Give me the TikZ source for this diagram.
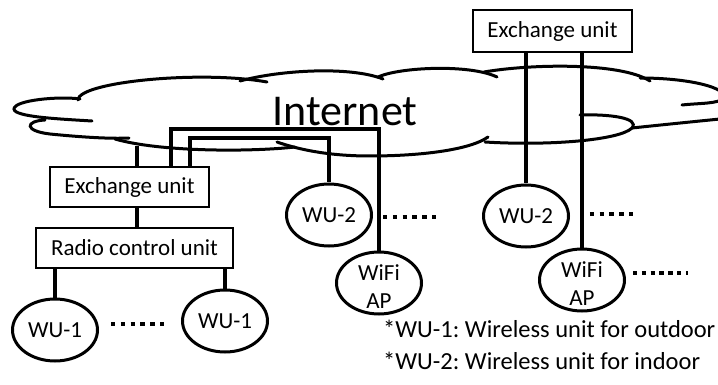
\documentclass[tikz,border=0pt]{standalone}
\usepackage{fontspec}
\setmainfont{Carlito}
\usetikzlibrary{shapes.geometric}
\frenchspacing

\begin{document}
\begin{tikzpicture}[x=1pt,y=-1pt,
	unitbox/.style={draw=black,line width=1.4pt,minimum height=40pt,inner sep=0pt,font=\fontsize{23}{28}\selectfont},
	wunode/.style={draw=black,ellipse,line width=3pt,minimum width=85pt,minimum height=62pt,inner sep=0pt,font=\fontsize{23}{28}\selectfont},
	link/.style={line width=3.3pt},
	cloudline/.style={line width=3pt,line cap=round},
	dots/.style={line width=4.3pt,dash pattern=on 4.3pt off 5.5pt},
	note/.style={anchor=west,inner sep=0pt,font=\fontsize{24.5}{29}\selectfont}]
		\clip (0,0) rectangle (718,385);
		
		% cloud
		\draw[cloudline] (80,99) .. controls (60,96) and (14,100) .. (14,109) .. controls (14,117) and (60,119) .. (92,121);
		\draw[cloudline] (45,120) .. controls (25,121) and (24,131) .. (50,134) .. controls (80,137) and (110,139) .. (129,138);
		\draw[cloudline] (115,139) .. controls (160,152) and (250,152) .. (295,147);
		\draw[cloudline] (277,142) .. controls (300,150) and (330,156) .. (370,156) .. controls (420,156) and (470,150) .. (488,137);
		\draw[cloudline] (485,142) .. controls (550,146) and (620,140) .. (632,128) .. controls (640,118) and (610,114) .. (580,115);
		\draw[cloudline] (632,128) .. controls (660,125) and (700,121) .. (730,118);
		\draw[cloudline] (640,78) .. controls (690,78) and (728,88) .. (724,98) .. controls (718,104) and (700,103) .. (682,105);
		\draw[cloudline] (78,100) .. controls (78,82) and (200,70) .. (267,82);
		\draw[cloudline] (240,81) .. controls (280,70) and (350,66) .. (383,79);
		\draw[cloudline] (378,77) .. controls (400,67) and (470,64) .. (497,77);
		\draw[cloudline] (484,72) .. controls (530,64) and (620,62) .. (650,81);
		\node[font=\fontsize{44}{50}\selectfont,anchor=base,inner sep=0pt] (inet) at (345,126) {Internet};
		
		% units
		\node[unitbox,minimum width=159pt,minimum height=42pt] (exR) at (552.5,31) {Exchange unit};
		\node[unitbox,minimum width=159pt] (exL) at (129.5,187) {Exchange unit};
		\node[unitbox,minimum width=197pt] (radio) at (134.5,248) {Radio control unit};
		
		\node[wunode] (wu1a) at (55,330) {WU-1};
		\node[wunode] (wu1b) at (225,321) {WU-1};
		\node[wunode] (wu2m) at (329,215) {WU-2};
		\node[wunode] (wifim) at (379,283) {\smash{\raisebox{-12pt}{\begin{tabular}{@{}c@{}}WiFi\\AP\end{tabular}}}};
		\node[wunode] (wu2r) at (526,216) {WU-2};
		\node[wunode] (wifir) at (582,280) {\smash{\raisebox{-12pt}{\begin{tabular}{@{}c@{}}WiFi\\AP\end{tabular}}}};
		
		% links
		\coordinate (cl) at (137,146);
		\coordinate (b1) at (171,129);
		\coordinate (b2) at (190,138);
		\draw[link] (cl) -- (cl |- exL.north);
		\draw[link] (exL.north -| b1) |- (b1 -| wifim.north) -- (wifim.north);
		\draw[link] (exL.north -| b2) |- (b2 -| wu2m.north) -- (wu2m.north);
		\draw[link] (exL.south -| cl) -- (radio.north -| cl);
		\draw[link] (radio.south -| wu1a.north) -- (wu1a.north);
		\draw[link] (radio.south -| wu1b.north) -- (wu1b.north);
		\draw[link] (exR.south -| wu2r.north) -- (wu2r.north);
		\draw[link] (exR.south -| wifir.north) -- (wifir.north);
		
		\draw[dots] (111,324) -- (164,324);
		\draw[dots] (383,217) -- (437,217);
		\draw[dots] (580,214) -- (633,214);
		\draw[dots,dash pattern=on 4.3pt off 4.5pt] (633,273) -- (688,273);
		
		\node[note] (n1) at (383,329) {*WU-1: Wireless unit for outdoor};
		\node[note] (n2) at (383,361) {*WU-2: Wireless unit for indoor};
	\end{tikzpicture}
\end{document}
